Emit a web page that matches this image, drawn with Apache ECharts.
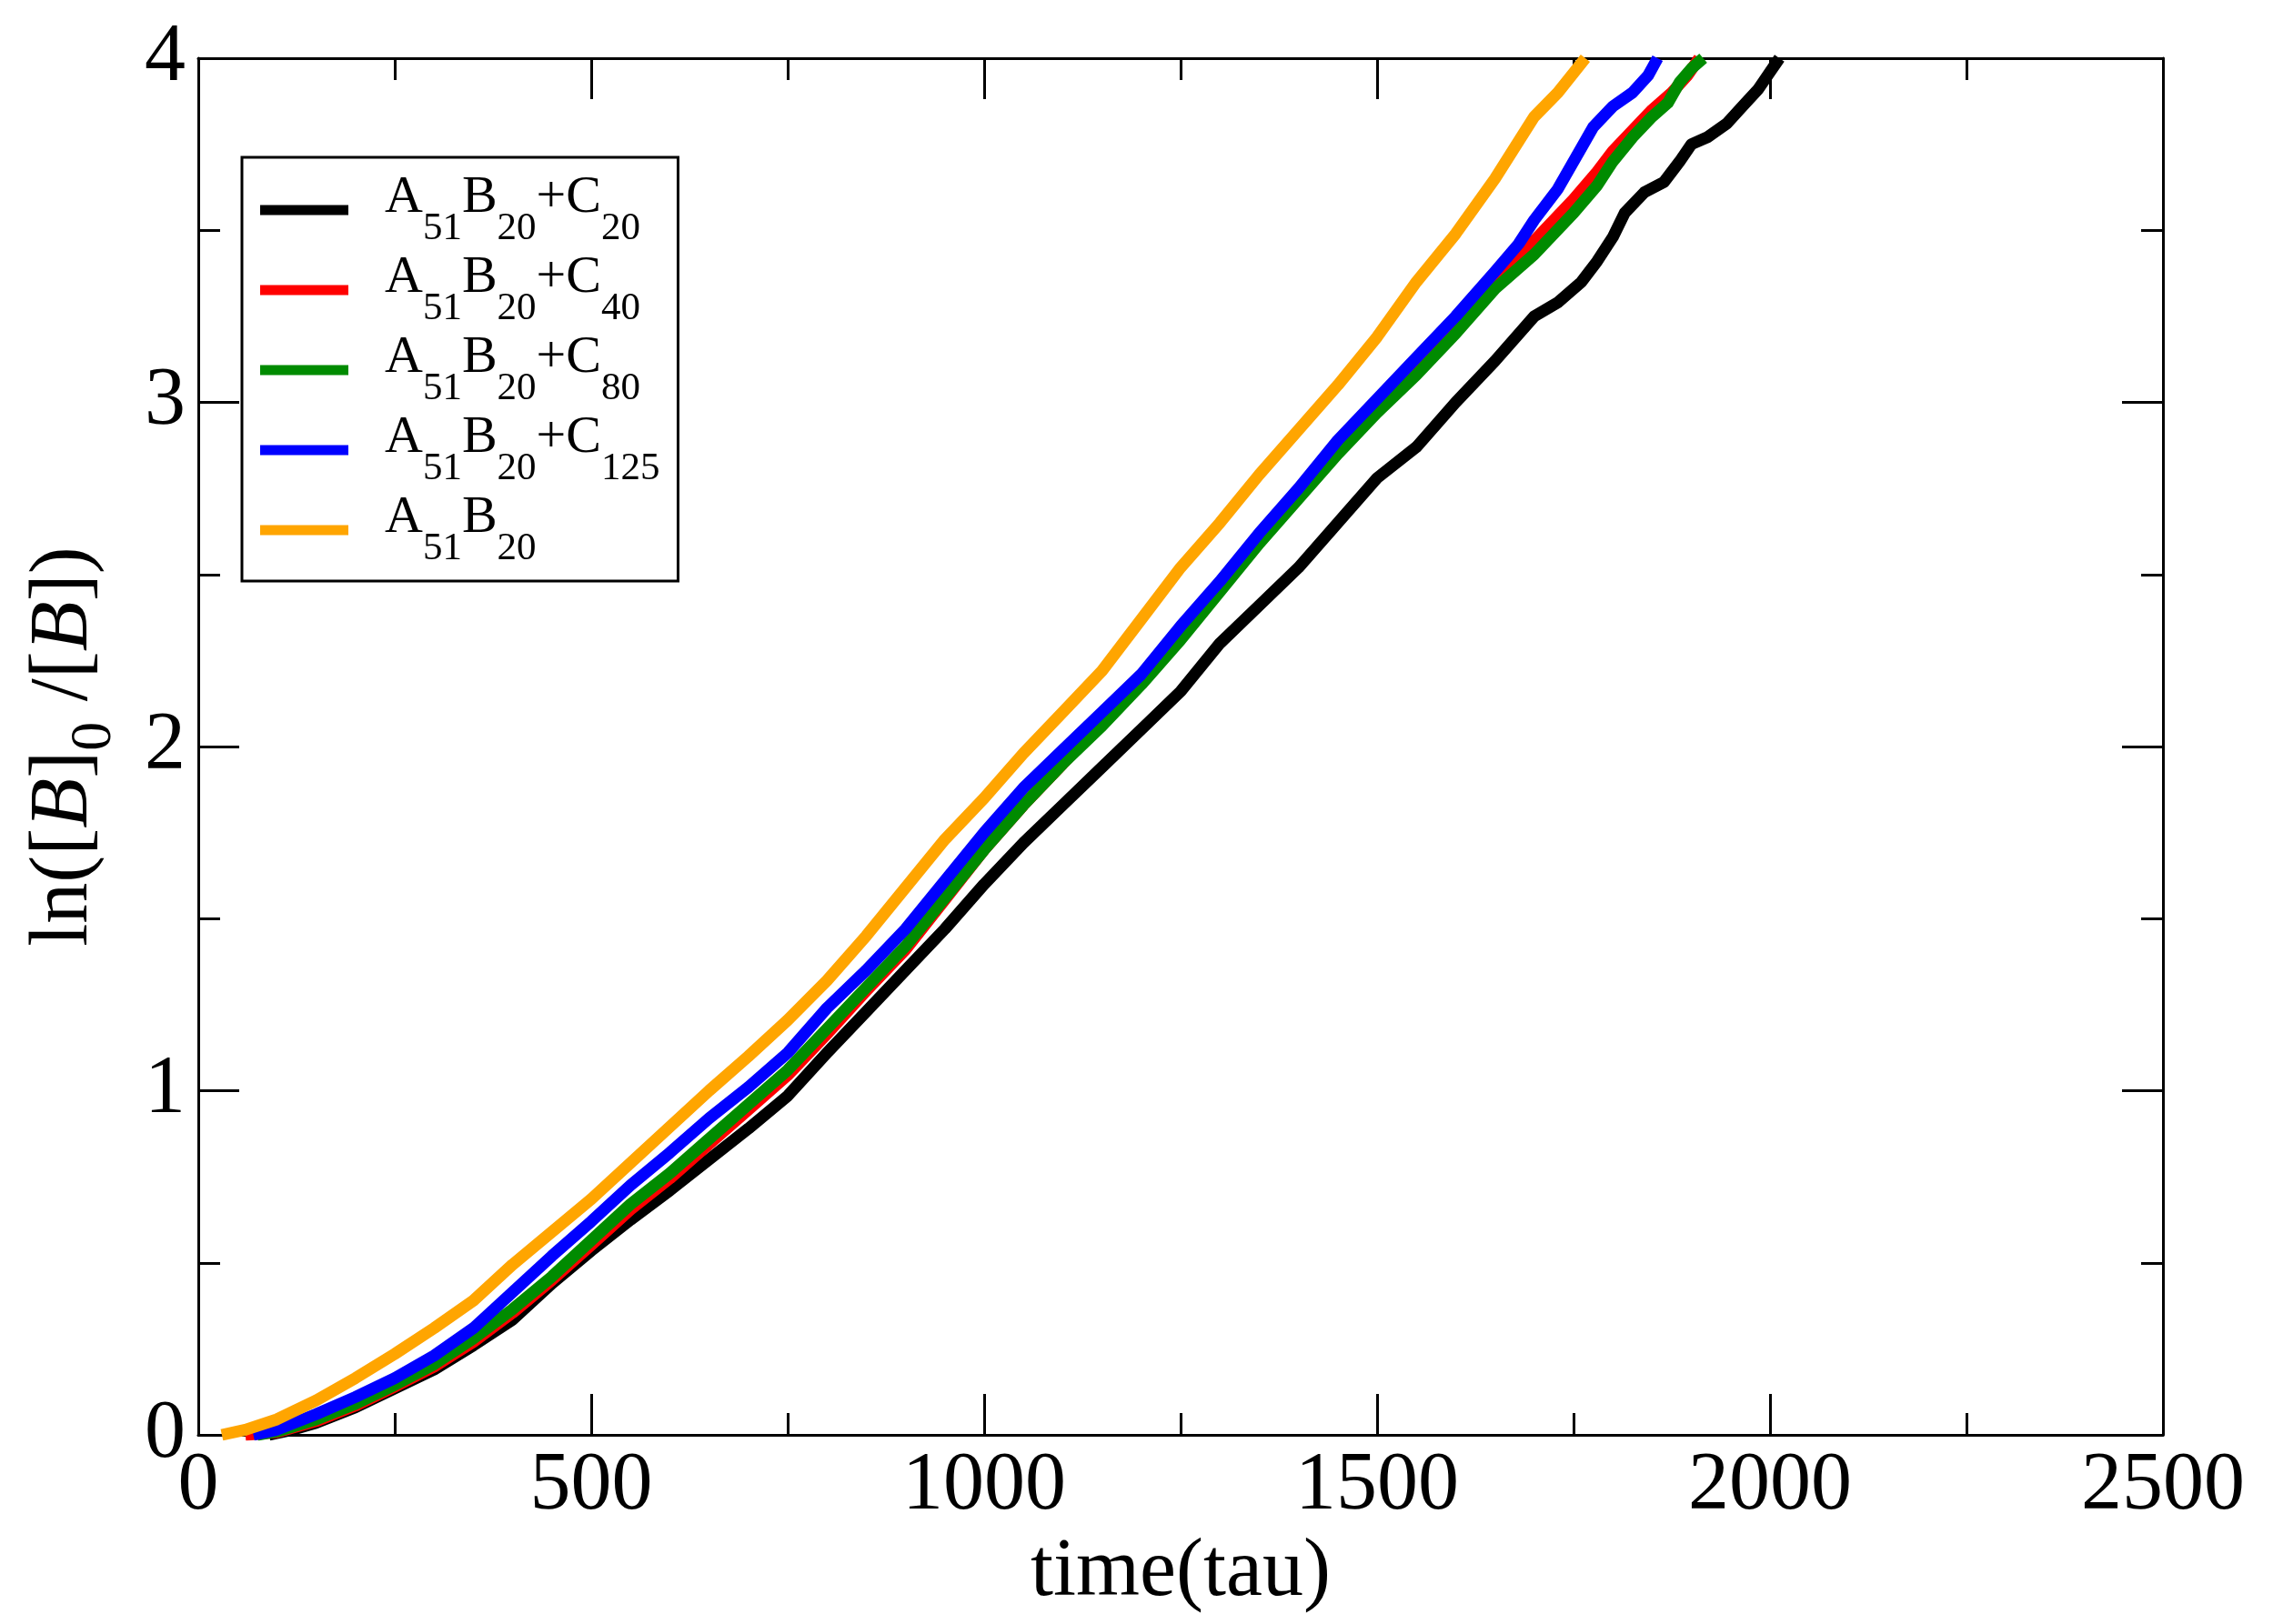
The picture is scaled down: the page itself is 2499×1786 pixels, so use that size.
<!DOCTYPE html>
<html>
<head>
<meta charset="utf-8">
<script src="https://cdn.jsdelivr.net/npm/echarts@6/dist/echarts.min.js"></script>
<style>
html,body{margin:0;padding:0;background:#fff;}
#chart{width:2499px;height:1786px;}
</style>
</head>
<body>
<div id="chart"></div>
<script>
// ---- data (time in tau, ln([B]0/[B])) ----
const seriesNames = ['A51B20+C20', 'A51B20+C40', 'A51B20+C80', 'A51B20+C125', 'A51B20'];
const seriesColors = ['#000000', '#ff0000', '#008b00', '#0000ff', '#ffa500'];

const timeC20 = [90,120,150,200,250,300,350,400,450,500,550,600,650,700,750,800,850,900,950,1000,1050,1100,1150,1200,1250,1300,1350,1400,1450,1500,1550,1600,1650,1700,1730,1760,1780,1800,1815,1840,1865,1885,1900,1920,1945,1965,1985,2000,2012];
const lnC20   = [0,0.015,0.035,0.08,0.135,0.19,0.26,0.335,0.44,0.535,0.625,0.71,0.80,0.89,0.985,1.11,1.23,1.35,1.47,1.60,1.72,1.83,1.94,2.05,2.16,2.30,2.41,2.52,2.65,2.78,2.87,3.00,3.12,3.25,3.29,3.35,3.41,3.48,3.55,3.61,3.64,3.70,3.75,3.77,3.81,3.86,3.91,3.96,4.0];

const timeC40 = [60,100,150,200,250,300,350,400,450,500,550,600,650,700,750,800,850,900,950,1000,1050,1100,1150,1200,1250,1300,1350,1400,1450,1500,1550,1600,1650,1700,1750,1780,1800,1825,1850,1875,1895,1910];
const lnC40   = [0,0.008,0.04,0.085,0.14,0.198,0.27,0.355,0.45,0.552,0.655,0.745,0.845,0.945,1.045,1.165,1.29,1.41,1.555,1.70,1.83,1.95,2.07,2.20,2.34,2.47,2.61,2.74,2.87,2.98,3.10,3.23,3.37,3.47,3.59,3.67,3.73,3.79,3.85,3.90,3.95,4.0];

const timeC80 = [75,100,150,200,250,300,350,400,450,500,550,600,650,700,750,800,850,900,950,1000,1050,1100,1150,1200,1250,1300,1350,1400,1450,1500,1550,1600,1650,1700,1750,1780,1800,1825,1850,1870,1885,1900,1915];
const lnC80   = [0,0.01,0.045,0.09,0.145,0.205,0.28,0.365,0.46,0.565,0.67,0.76,0.86,0.96,1.06,1.18,1.30,1.42,1.56,1.70,1.83,1.95,2.06,2.18,2.31,2.45,2.59,2.72,2.85,2.97,3.08,3.20,3.33,3.43,3.55,3.63,3.70,3.77,3.83,3.87,3.93,3.97,4.0];

const timeC125 = [70,100,150,200,250,300,350,400,450,500,550,600,650,700,750,800,850,900,950,1000,1050,1100,1150,1200,1250,1300,1350,1400,1450,1500,1550,1600,1650,1680,1700,1730,1760,1775,1800,1825,1845,1857];
const lnC125   = [0,0.015,0.06,0.11,0.165,0.23,0.31,0.415,0.52,0.62,0.725,0.82,0.92,1.01,1.11,1.24,1.35,1.47,1.61,1.75,1.88,1.99,2.10,2.21,2.35,2.48,2.62,2.75,2.89,3.01,3.13,3.25,3.38,3.46,3.53,3.62,3.74,3.80,3.86,3.90,3.95,4.0];

const timeNoC = [30,60,100,150,200,250,300,350,400,450,500,550,600,650,700,750,800,850,900,950,1000,1050,1100,1150,1200,1250,1300,1350,1400,1450,1500,1550,1600,1650,1700,1730,1765];
const lnNoC   = [0,0.015,0.045,0.10,0.165,0.235,0.31,0.39,0.495,0.59,0.685,0.79,0.895,1.00,1.10,1.205,1.32,1.45,1.59,1.73,1.85,1.98,2.10,2.22,2.37,2.52,2.65,2.79,2.92,3.05,3.19,3.35,3.49,3.65,3.83,3.90,4.0];

const xTicks = {min: 0, max: 2500, step: 500};
const yTicks = {min: 0, max: 4, step: 1};

const legendRich = {
  'A51B20+C20':  '{g|A}{s|51}{m|B}{s|20}{m|+C}{s|20}',
  'A51B20+C40':  '{g|A}{s|51}{m|B}{s|20}{m|+C}{s|40}',
  'A51B20+C80':  '{g|A}{s|51}{m|B}{s|20}{m|+C}{s|80}',
  'A51B20+C125': '{g|A}{s|51}{m|B}{s|20}{m|+C}{s|125}',
  'A51B20':      '{g|A}{s|51}{m|B}{s|20}'
};
// ------------------------------------------------

const FONT = "'Liberation Serif', 'Times New Roman', serif";
const seriesTimes = [timeC20, timeC40, timeC80, timeC125, timeNoC];
const seriesVals  = [lnC20, lnC40, lnC80, lnC125, lnNoC];

function pairs(t, v) { return t.map((x, i) => [x, v[i]]); }

const axisLine = {show: true, onZero: false, lineStyle: {color: '#000', width: 3}};
const axisTick = {show: true, inside: true, length: 45, lineStyle: {color: '#000', width: 3}};
const minorTick = {show: true, splitNumber: 2, length: 24, lineStyle: {color: '#000', width: 3}};
const labelStyle = {color: '#000', fontFamily: FONT, fontSize: 90, showMinLabel: true, showMaxLabel: true,
                    formatter: v => String(v)};

const chart = echarts.init(document.getElementById('chart'), null, {renderer: 'canvas'});
chart.setOption({
  backgroundColor: '#ffffff',
  animation: false,
  grid: {left: 218, right: 121, top: 64, bottom: 208, containLabel: false},
  xAxis: [
    {
      type: 'value', min: xTicks.min, max: xTicks.max, interval: xTicks.step, position: 'bottom',
      axisLine, axisTick, minorTick, splitLine: {show: false},
      axisLabel: Object.assign({margin: 12}, labelStyle),
      name: 'time(tau)', nameLocation: 'middle', nameGap: 96,
      nameTextStyle: {color: '#000', fontFamily: FONT, fontSize: 90}
    },
    {
      type: 'value', min: xTicks.min, max: xTicks.max, interval: xTicks.step, position: 'top',
      axisLine, axisTick, minorTick, splitLine: {show: false}, axisLabel: {show: false}
    }
  ],
  yAxis: [
    {
      type: 'value', min: yTicks.min, max: yTicks.max, interval: yTicks.step, position: 'left',
      axisLine, axisTick, minorTick, splitLine: {show: false},
      axisLabel: Object.assign({margin: 14}, labelStyle),
      name: '{m|ln([}{i|B}{m|]}{s|0}{m| /[}{i|B}{m|])}',
      nameLocation: 'middle', nameGap: 82,
      nameTextStyle: {
        color: '#000', fontFamily: FONT, fontSize: 90,
        rich: {
          m: {fontFamily: FONT, fontSize: 90, color: '#000', verticalAlign: 'top', lineHeight: 110},
          i: {fontFamily: FONT, fontSize: 90, fontStyle: 'italic', color: '#000', verticalAlign: 'top', lineHeight: 110},
          s: {fontFamily: FONT, fontSize: 64, color: '#000', verticalAlign: 'bottom', lineHeight: 110}
        }
      }
    },
    {
      type: 'value', min: yTicks.min, max: yTicks.max, interval: yTicks.step, position: 'right',
      axisLine, axisTick, minorTick, splitLine: {show: false}, axisLabel: {show: false}
    }
  ],
  legend: {
    orient: 'vertical', left: 266, top: 173,
    padding: [16, 20, 14, 20],
    itemGap: 4, itemWidth: 97, itemHeight: 11,
    icon: 'rect',
    borderColor: '#000', borderWidth: 3, backgroundColor: '#fff',
    data: seriesNames,
    formatter: name => legendRich[name],
    textStyle: {
      color: '#000', fontFamily: FONT, fontSize: 58,
      rich: {
        g: {fontFamily: FONT, fontSize: 58, color: '#000', verticalAlign: 'top', lineHeight: 84, padding: [0, 0, 0, 35]},
        m: {fontFamily: FONT, fontSize: 58, color: '#000', verticalAlign: 'top', lineHeight: 84},
        s: {fontFamily: FONT, fontSize: 43, color: '#000', verticalAlign: 'bottom', lineHeight: 84}
      }
    }
  },
  series: seriesNames.map((name, k) => ({
    name: name,
    type: 'line',
    xAxisIndex: 0, yAxisIndex: 0,
    data: pairs(seriesTimes[k], seriesVals[k]),
    showSymbol: false, symbol: 'none',
    smooth: false,
    color: seriesColors[k],
    itemStyle: {color: seriesColors[k]},
    lineStyle: {color: seriesColors[k], width: 13, join: 'round'},
    emphasis: {disabled: true},
    clip: true
  }))
});
</script>
</body>
</html>
